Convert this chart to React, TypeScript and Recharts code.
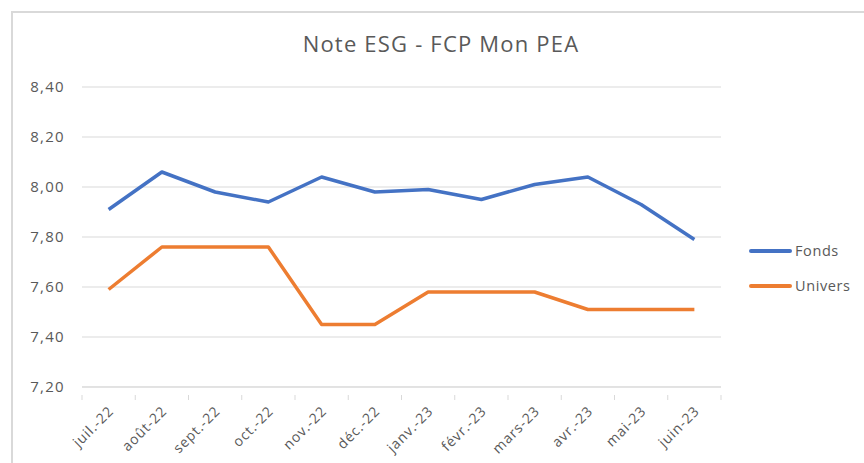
import { LineChart, Line, XAxis, YAxis, CartesianGrid } from "recharts";

const months = [
  "juil.-22",
  "août-22",
  "sept.-22",
  "oct.-22",
  "nov.-22",
  "déc.-22",
  "janv.-23",
  "févr.-23",
  "mars-23",
  "avr.-23",
  "mai-23",
  "juin-23",
];
const fonds = [7.91, 8.06, 7.98, 7.94, 8.04, 7.98, 7.99, 7.95, 8.01, 8.04, 7.93, 7.79];
const univers = [7.59, 7.76, 7.76, 7.76, 7.45, 7.45, 7.58, 7.58, 7.58, 7.51, 7.51, 7.51];
const yTicks = [7.2, 7.4, 7.6, 7.8, 8.0, 8.2, 8.4];

const series = [
  { key: "Fonds", color: "#4472C4" },
  { key: "Univers", color: "#ED7D31" },
];

const data = months.map((m, i) => ({ month: m, Fonds: fonds[i], Univers: univers[i] }));

const W = 864;
const H = 463;
const plotLeft = 82;
const plotRight = 721;
const halfBand = (plotRight - plotLeft) / months.length / 2;
const textColor = "#595959";
const font = "'Open Sans', sans-serif";

const MonthTick = (props: any) => {
  const { x, y, payload, index } = props;
  return (
    <g transform={`translate(${x},${y})`}>
      <line x1={-halfBand} x2={-halfBand} y1={0} y2={5} stroke="#d9d9d9" />
      {index === months.length - 1 && (
        <line x1={halfBand} x2={halfBand} y1={0} y2={5} stroke="#d9d9d9" />
      )}
      <text
        x={6}
        y={17}
        transform="rotate(-45 6 17)"
        textAnchor="end"
        fill={textColor}
        fontSize={14}
        letterSpacing={0.9}
        fontFamily={font}
      >
        {payload.value}
      </text>
    </g>
  );
};

export default function App() {
  return (
    <div style={{ position: "absolute", left: 0, top: 0, width: W, height: H, background: "#fff" }}>
      <div
        style={{
          position: "absolute",
          left: 11,
          top: 11,
          width: W,
          height: H,
          borderLeft: "2px solid #d9d9d9",
          borderTop: "2px solid #d9d9d9",
        }}
      />
      <div
        style={{
          position: "absolute",
          left: 0,
          top: 29,
          width: 882,
          textAlign: "center",
          fontFamily: font,
          fontSize: 22,
          letterSpacing: 1.2,
          lineHeight: "28px",
          color: textColor,
        }}
      >
        Note ESG - FCP Mon PEA
      </div>
      <LineChart
        width={W}
        height={H}
        data={data}
        margin={{ top: 87, right: W - plotRight, bottom: 0, left: plotLeft - 40 }}
      >
        <CartesianGrid vertical={false} stroke="#d9d9d9" />
        <XAxis
          dataKey="month"
          height={76}
          padding={{ left: halfBand, right: halfBand }}
          axisLine={{ stroke: "#d9d9d9" }}
          tickLine={false}
          interval={0}
          tick={<MonthTick />}
        />
        <YAxis
          width={40}
          domain={[7.2, 8.4]}
          ticks={yTicks}
          axisLine={false}
          tickLine={false}
          tickMargin={11}
          tick={{ fill: textColor, fontSize: 15, fontFamily: font, letterSpacing: 1.3 }}
          tickFormatter={(v: number) => v.toFixed(2).replace(".", ",")}
        />
        {series.map((s) => (
          <Line
            key={s.key}
            type="linear"
            dataKey={s.key}
            stroke={s.color}
            strokeWidth={3.5}
            dot={false}
            strokeLinejoin="round"
            isAnimationActive={false}
          />
        ))}
      </LineChart>
      <div
        style={{
          position: "absolute",
          left: 749,
          top: 233,
          fontFamily: font,
          fontSize: 14.5,
          letterSpacing: 0.6,
          color: textColor,
        }}
      >
        {series.map((s) => (
          <div key={s.key} style={{ display: "flex", alignItems: "center", height: 35 }}>
            <span
              style={{
                display: "inline-block",
                width: 43,
                height: 4,
                borderRadius: 2,
                background: s.color,
                marginRight: 3,
              }}
            />
            {s.key}
          </div>
        ))}
      </div>
    </div>
  );
}
